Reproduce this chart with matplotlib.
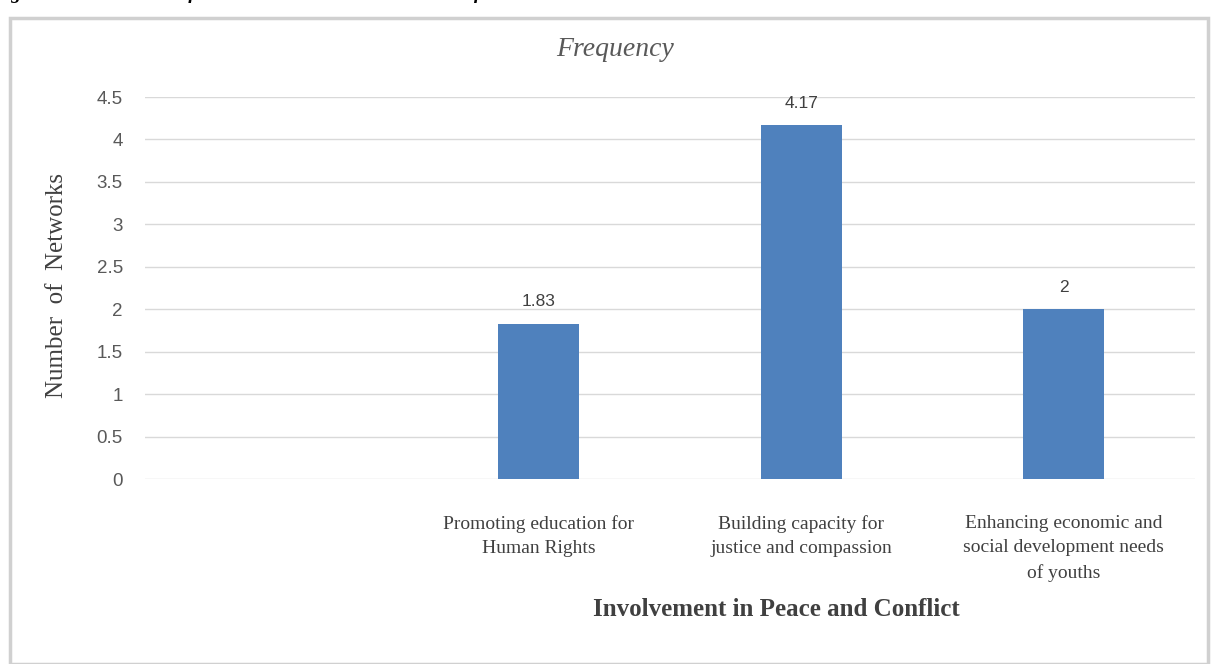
import matplotlib
matplotlib.use("Agg")
import matplotlib.pyplot as plt
from matplotlib.patches import Rectangle

# data
categories = ["",
              "Promoting education for\nHuman Rights",
              "Building capacity for\njustice and compassion",
              "Enhancing economic and\nsocial development needs\nof youths"]
values = [None, 1.83, 4.17, 2]
labels = ["", "1.83", "4.17", "2"]
yticks = [0, 0.5, 1, 1.5, 2, 2.5, 3, 3.5, 4, 4.5]

W, H = 1216, 664
fig = plt.figure(figsize=(W / 100, H / 100), dpi=100)

# outer chart border
fig.patches.append(Rectangle((10 / W, 0), 1198 / W, 1 - 18 / H, transform=fig.transFigure,
                             fill=False, edgecolor="#D0D0D0", linewidth=2.5, zorder=0))

# caption, mostly cut off at the top as in the source
fig.text(0.005, 1 + 5 / H, "igure 3: Involvement of Youth Networks in Peace and Conflict Resolution",
         family="Liberation Serif", weight="bold", style="italic", fontsize=14, va="center", ha="left")

ax = fig.add_axes([145 / W, 1 - 479 / H, 1050 / W, 382 / H])
x = range(len(categories))
vals = [v if v is not None else 0 for v in values]
bars = ax.bar(x, vals, width=0.31, color="#4F81BD", zorder=3)
for i, b in enumerate(bars):
    if labels[i]:
        ax.text(b.get_x() + b.get_width() / 2, b.get_height() + 0.17, labels[i],
                ha="center", va="bottom", fontsize=12.5, color="#404040", family="Liberation Sans")

ax.set_xlim(-0.5, 3.5)
ax.set_ylim(0, 4.5)
ax.set_yticks(yticks)
ax.set_yticklabels([("%g" % t) for t in yticks], family="Liberation Sans", fontsize=13.5, color="#595959")
ax.set_xticks(list(x))
ax.set_xticklabels(categories, family="Liberation Serif", fontsize=14, color="#404040", linespacing=1.55)
ax.tick_params(length=0, axis="y", pad=16)
ax.tick_params(length=0, axis="x", pad=26)
ax.yaxis.grid(True, color="#D9D9D9", linewidth=1)
ax.set_axisbelow(True)
for s in ax.spines.values():
    s.set_visible(False)

fig.text(615 / W, 1 - 50 / H, "Frequency", family="Liberation Serif", style="italic",
         fontsize=20, color="#595959", ha="center", va="center")
fig.text(57 / W, 1 - 285 / H, "Number  of  Networks", family="Liberation Serif", fontsize=18,
         color="#404040", rotation=90, ha="center", va="center")
fig.text(776 / W, 1 - 610 / H, "Involvement in Peace and Conflict", family="Liberation Serif",
         weight="bold", fontsize=18, color="#404040", ha="center", va="center")

fig.savefig("out.png", dpi=100)
